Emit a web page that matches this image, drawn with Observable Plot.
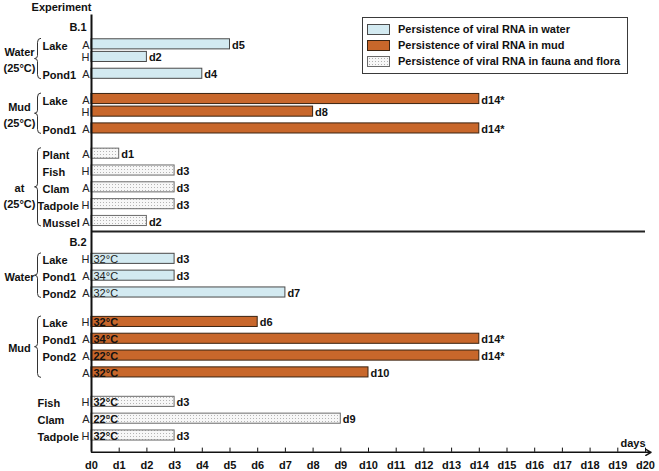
<!DOCTYPE html>
<html><head><meta charset="utf-8">
<script src="https://cdn.jsdelivr.net/npm/d3@7"></script>
<script src="https://cdn.jsdelivr.net/npm/@observablehq/plot@0.6"></script>
<style>
body{margin:0;background:#fff;font-family:"Liberation Sans",Arial,sans-serif;}
#wrap{position:relative;width:659px;height:471px;}
#legend{position:absolute;left:362px;top:17px;width:266px;height:57px;border:1.5px solid #3a3a3a;background:#fff;box-sizing:border-box;padding-top:3px;}
.lrow{display:flex;align-items:center;height:16px;font-size:11px;font-weight:bold;color:#111;}
.sw{width:23px;height:11px;margin-left:4px;margin-right:8px;box-sizing:border-box;}
</style></head><body><div id="wrap"><div id="legend"></div></div>
<script>
// ---- data ----
const section = ["B.1","B.1","B.1","B.1","B.1","B.1","B.1","B.1","B.1","B.1","B.1",
                 "B.2","B.2","B.2","B.2","B.2","B.2","B.2","B.2","B.2","B.2"];
const medium  = ["water","water","water","mud","mud","mud","fauna","fauna","fauna","fauna","fauna",
                 "water","water","water","mud","mud","mud","mud","fauna","fauna","fauna"];
const site    = ["Lake","Lake","Pond1","Lake","Lake","Pond1","Plant","Fish","Clam","Tadpole","Mussel",
                 "Lake","Pond1","Pond2","Lake","Pond1","Pond2","Pond2","Fish","Clam","Tadpole"];
const host    = ["A","H","A","A","H","A","A","H","A","H","A",
                 "H","A","A","H","A","A","A","H","A","H"];
const temp    = ["","","","","","","","","","","",
                 "32°C","34°C","32°C","32°C","34°C","22°C","32°C","32°C","22°C","32°C"];
const days    = [5,2,4,14,8,14,1,3,3,3,2, 3,3,7,6,14,14,10,3,9,3];
const dayText = ["d5","d2","d4","d14*","d8","d14*","d1","d3","d3","d3","d2",
                 "d3","d3","d7","d6","d14*","d14*","d10","d3","d9","d3"];
const groupLabels = {"B.1|water":"Water\n(25°C)","B.1|mud":"Mud\n(25°C)","B.1|fauna":"\nat\n(25°C)",
                     "B.2|water":"Water","B.2|mud":"Mud","B.2|fauna":""};
const dayTicks = d3.range(0, 21);
const legendItems = [["water","Persistence of viral RNA in water"],
                     ["mud","Persistence of viral RNA in mud"],
                     ["fauna","Persistence of viral RNA in fauna and flora"]];

// ---- layout of rows (in row-slot units) ----
const rows = [];
const headers = [{label:"B.1", slot:0}];
let s = 0;
for (let i = 0; i < section.length; i++) {
  if (i === 0) s = 4;
  else if (section[i] !== section[i-1]) { s += 5; headers.push({label: section[i], slot: s}); s += 4; }
  else if (medium[i] !== medium[i-1]) s += section[i] === "B.1" ? 6 : 7;
  else if (site[i] === site[i-1] && host[i] !== host[i-1]) s += 3;
  else s += 4;
  const first = i === 0 || section[i] !== section[i-1] || medium[i] !== medium[i-1] || site[i] !== site[i-1];
  rows.push({section: section[i], medium: medium[i], site: first ? site[i] : "", host: host[i],
             temp: temp[i], days: days[i], dayText: dayText[i], slot: s});
}
const maxSlot = s;
const axisSlot = maxSlot + 4;
const sepSlot = (rows.filter(r => r.section === "B.1").at(-1).slot + headers[1].slot) / 2;
const groups = d3.groups(rows, r => r.section + "|" + r.medium).map(([k, rs]) => ({
  key: k, label: groupLabels[k], top: rs[0].slot, bottom: rs.at(-1).slot, mid: (rs[0].slot + rs.at(-1).slot) / 2
}));

const colors = {water: "#d3eaf1", mud: "#c8672b", fauna: "url(#dots)"};
const strokes = {water: "#4a4a4a", mud: "#3a2412", fauna: "#6a6a6a"};
const half = 1.2;
const F = "Liberation Sans, Arial, sans-serif";

const barMarks = ["water","mud","fauna"].map(m =>
  Plot.rect(rows.filter(r => r.medium === m), {
    x1: 0, x2: "days", y1: r => r.slot - half, y2: r => r.slot + half,
    fill: colors[m], stroke: strokes[m], strokeWidth: 1
  }));

const plot = Plot.plot({
  width: 659, height: 471, margin: 0,
  style: {fontFamily: F, fontSize: "11px", background: "#fff", color: "#111"},
  x: {domain: [0, 20], range: [91, 645], axis: null},
  y: {domain: [0, maxSlot], range: [27, 435], axis: null},
  marks: [
    ...barMarks,
    // temperatures inside bars
    Plot.text(rows.filter(r => r.temp && r.medium === "water"), {x: 0, y: "slot", text: "temp", dx: 2, dy: 1, textAnchor: "start", fill: "#222"}),
    Plot.text(rows.filter(r => r.temp && r.medium !== "water"), {x: 0, y: "slot", text: "temp", dx: 2, dy: 1, textAnchor: "start", fontWeight: "bold", fill: "#111"}),
    // day labels
    Plot.text(rows, {x: "days", y: "slot", text: "dayText", dx: 2, dy: 1, textAnchor: "start", fontWeight: "bold"}),
    // A / H
    Plot.text(rows, {x: 0, y: "slot", text: "host", dx: -2, dy: 1, textAnchor: "end", fill: "#222"}),
    // site names (x offset adjusted below)
    Plot.text(rows.filter(r => r.site), {x: 0, y: "slot", text: "site", dy: 1, textAnchor: "start", fontWeight: "bold"}),
    // section headers
    Plot.text(headers, {x: 0, y: "slot", text: "label", dx: -5, textAnchor: "end", fontWeight: "bold"}),
    // group labels
    Plot.text(groups.filter(g => g.label), {x: 0, y: "mid", text: "label", dx: -72, lineHeight: 1.45, textAnchor: "middle", fontWeight: "bold"}),
    // separator
    Plot.ruleY([sepSlot], {x1: 0, x2: 20, stroke: "#222", strokeWidth: 2}),
    // vertical axis
    Plot.ruleX([0], {y1: -3, y2: axisSlot, stroke: "#111", strokeWidth: 2}),
    // x axis
    Plot.arrow([0], {x1: 0, x2: 20.2, y1: axisSlot, y2: axisSlot, headLength: 6, strokeWidth: 1.5, stroke: "#111"}),
    Plot.ruleX(dayTicks, {x: d => d, y1: axisSlot, y2: axisSlot - 1, stroke: "#111", strokeWidth: 1}),
    Plot.text(dayTicks, {x: d => d, y: axisSlot, dy: 13, text: d => "d" + d, fontWeight: "bold"}),
    Plot.text(["days"], {x: 20, y: axisSlot, dy: -9, text: d => d, textAnchor: "end", fontWeight: "bold"}),
    Plot.text(["Experiment"], {frameAnchor: "top-left", dx: 61, dy: 7, lineAnchor: "middle", text: d => d, textAnchor: "middle", fontWeight: "bold"})
  ]
});

const svg = d3.select(plot);
svg.insert("defs", ":first-child").html(
  '<pattern id="dots" width="3" height="3" patternUnits="userSpaceOnUse">' +
  '<rect width="3" height="3" fill="#f7f7f7"/><rect x="1" y="1" width="1" height="1" fill="#b4b4b4"/></pattern>');

const y = plot.scale("y");
const yPix = v => y.range[0] + (v - y.domain[0]) / (y.domain[1] - y.domain[0]) * (y.range[1] - y.range[0]);

// site names: left-aligned at a fixed offset left of the axis
const siteRows = rows.filter(r => r.site);
const textGroups = svg.selectAll("g[aria-label='text']").nodes();
d3.select(textGroups[4]).selectAll("text").each(function(d, i) {
  const r = siteRows[i];
  const left = (r.section === "B.2" && r.medium === "fauna") || r.site.length >= 7 ? 37 : 42;
  d3.select(this).attr("transform", `translate(${left},${yPix(r.slot) + 1})`);
});

// braces
const braceG = svg.append("g").attr("fill", "none").attr("stroke", "#333").attr("stroke-width", 1);
groups.filter(g => g.label).forEach(g => {
  const y0 = yPix(g.top) - 5.5, y1 = yPix(g.bottom) + 5.5, m = (y0 + y1) / 2;
  const xe = 41, xs2 = 37.5, xt = 34.5;
  braceG.append("path").attr("d",
    `M${xe},${y0} Q${xs2},${y0} ${xs2},${y0 + 4} L${xs2},${m - 3} Q${xs2},${m} ${xt},${m} Q${xs2},${m} ${xs2},${m + 3} L${xs2},${y1 - 4} Q${xs2},${y1} ${xe},${y1}`);
});

document.getElementById("wrap").prepend(plot);

// legend
const lg = d3.select("#legend");
legendItems.forEach(([m, label]) => {
  const row = lg.append("div").attr("class", "lrow");
  const sw = row.append("div").attr("class", "sw").style("border", `1px solid ${strokes[m]}`);
  if (m === "fauna") sw.style("background", "radial-gradient(circle, #b0b0b0 0.7px, transparent 0.8px) 0 0/3px 3px, #f7f7f7");
  else sw.style("background", colors[m]);
  row.append("span").text(label);
});
</script></body></html>
